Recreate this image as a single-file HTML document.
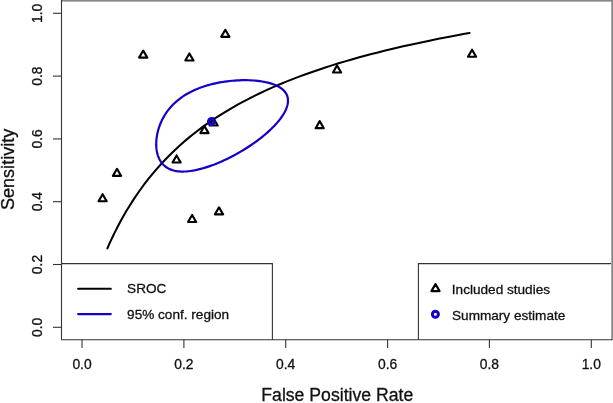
<!DOCTYPE html>
<html><head><meta charset="utf-8"><title>SROC plot</title><style>
html,body{margin:0;padding:0;background:#fff;}
svg{display:block;}
text{font-family:"Liberation Sans",sans-serif;fill:#111;stroke:#111;stroke-width:0.3px;}
svg{will-change:transform;}
</style></head><body>
<svg width="613" height="403" viewBox="0 0 613 403">
<rect width="613" height="403" fill="#fff"/>
<!-- plot box -->
<rect x="61" y="0" width="552" height="1.6" fill="#858585"/>
<rect x="611.3" y="0" width="1.7" height="340.2" fill="#858585"/>
<g stroke="#333" stroke-width="1.1" fill="none">
<line x1="61.5" y1="0" x2="61.5" y2="339.8"/>
<line x1="61" y1="339.8" x2="612" y2="339.8"/>
<!-- y ticks -->
<line x1="53" y1="13.3" x2="61.5" y2="13.3"/>
<line x1="53" y1="76.1" x2="61.5" y2="76.1"/>
<line x1="53" y1="138.9" x2="61.5" y2="138.9"/>
<line x1="53" y1="201.7" x2="61.5" y2="201.7"/>
<line x1="53" y1="264.5" x2="61.5" y2="264.5"/>
<line x1="53" y1="327.3" x2="61.5" y2="327.3"/>
<!-- x ticks -->
<line x1="82" y1="339.8" x2="82" y2="347.9"/>
<line x1="183.9" y1="339.8" x2="183.9" y2="347.9"/>
<line x1="285.7" y1="339.8" x2="285.7" y2="347.9"/>
<line x1="387.6" y1="339.8" x2="387.6" y2="347.9"/>
<line x1="489.4" y1="339.8" x2="489.4" y2="347.9"/>
<line x1="591.3" y1="339.8" x2="591.3" y2="347.9"/>
<!-- legends -->
<path d="M61.5,263.6 H272.4 V339.8"/>
<path d="M611,263.6 H418.4 V339.8"/>
</g>
<g font-size="13.85" text-anchor="middle">
<text x="82" y="369.3">0.0</text>
<text x="183.9" y="369.3">0.2</text>
<text x="285.7" y="369.3">0.4</text>
<text x="387.6" y="369.3">0.6</text>
<text x="489.4" y="369.3">0.8</text>
<text x="591.3" y="369.3">1.0</text>
<text transform="translate(42.2,13.3) rotate(-90)">1.0</text>
<text transform="translate(42.2,76.1) rotate(-90)">0.8</text>
<text transform="translate(42.2,138.9) rotate(-90)">0.6</text>
<text transform="translate(42.2,201.7) rotate(-90)">0.4</text>
<text transform="translate(42.2,264.5) rotate(-90)">0.2</text>
<text transform="translate(42.2,327.3) rotate(-90)">0.0</text>
</g>
<text x="337.3" y="401.4" font-size="17.65" text-anchor="middle">False Positive Rate</text>
<text transform="translate(13.9,169.4) rotate(-90)" font-size="18.05" text-anchor="middle">Sensitivity</text>
<!-- data -->
<path d="M102.60,194.23 L106.67,201.28 L98.53,201.28 Z M117.00,168.83 L121.07,175.88 L112.93,175.88 Z M143.20,50.57 L147.27,57.62 L139.13,57.62 Z M176.60,155.43 L180.67,162.47 L172.53,162.47 Z M189.40,53.47 L193.47,60.52 L185.33,60.52 Z M192.10,214.98 L196.17,222.03 L188.03,222.03 Z M204.45,126.08 L208.52,133.12 L200.38,133.12 Z M213.60,118.47 L217.67,125.52 L209.53,125.52 Z M219.00,207.33 L223.07,214.38 L214.93,214.38 Z M225.30,29.77 L229.37,36.82 L221.23,36.82 Z M319.70,121.12 L323.77,128.18 L315.63,128.18 Z M337.05,65.47 L341.12,72.52 L332.98,72.52 Z M472.05,49.70 L476.12,56.75 L467.98,56.75 Z" fill="none" stroke="#000" stroke-width="2.15" stroke-linejoin="round"/>
<path d="M107.40,248.33 L108.68,245.42 L110.03,242.44 L111.44,239.39 L112.91,236.28 L114.46,233.11 L116.07,229.87 L117.76,226.58 L119.53,223.23 L121.38,219.82 L123.31,216.37 L125.32,212.86 L127.43,209.31 L129.62,205.72 L131.92,202.09 L134.30,198.42 L136.79,194.72 L139.39,191.00 L142.09,187.25 L144.90,183.48 L147.82,179.70 L150.86,175.91 L154.01,172.11 L157.28,168.31 L160.68,164.52 L164.20,160.73 L167.84,156.95 L171.62,153.19 L175.52,149.45 L179.55,145.74 L183.72,142.05 L188.01,138.40 L192.44,134.79 L197.00,131.21 L201.70,127.68 L206.52,124.19 L211.47,120.76 L216.55,117.37 L221.76,114.05 L227.09,110.78 L232.55,107.57 L238.11,104.42 L243.80,101.34 L249.59,98.32 L255.48,95.37 L261.47,92.48 L267.56,89.67 L273.73,86.92 L279.98,84.25 L286.31,81.65 L292.70,79.11 L299.15,76.65 L305.64,74.26 L312.18,71.94 L318.75,69.69 L325.35,67.50 L331.96,65.39 L338.57,63.34 L345.19,61.36 L351.79,59.45 L358.37,57.60 L364.92,55.82 L371.44,54.09 L377.91,52.43 L384.32,50.83 L390.67,49.28 L396.96,47.80 L403.16,46.36 L409.29,44.99 L415.32,43.66 L421.26,42.39 L427.09,41.16 L432.82,39.98 L438.44,38.85 L443.94,37.77 L449.32,36.73 L454.58,35.73 L459.71,34.77 L464.72,33.85 L469.60,32.97" fill="none" stroke="#000" stroke-width="2.05" stroke-linecap="round" stroke-linejoin="round"/>
<path d="M161.76,162.92 L161.01,161.90 L160.31,160.83 L159.68,159.70 L159.09,158.53 L158.56,157.31 L158.09,156.05 L157.67,154.75 L157.30,153.41 L156.99,152.03 L156.73,150.61 L156.52,149.16 L156.37,147.68 L156.27,146.17 L156.23,144.63 L156.24,143.07 L156.30,141.49 L156.41,139.88 L156.58,138.27 L156.80,136.63 L157.08,134.99 L157.41,133.33 L157.79,131.67 L158.23,130.01 L158.73,128.35 L159.27,126.68 L159.88,125.02 L160.53,123.37 L161.25,121.73 L162.01,120.09 L162.84,118.47 L163.72,116.87 L164.66,115.28 L165.65,113.72 L166.70,112.17 L167.81,110.65 L168.97,109.16 L170.19,107.69 L171.47,106.25 L172.81,104.84 L174.20,103.46 L175.65,102.12 L177.16,100.81 L178.72,99.53 L180.34,98.30 L182.01,97.09 L183.74,95.93 L185.52,94.80 L187.35,93.72 L189.24,92.67 L191.17,91.67 L193.16,90.70 L195.19,89.78 L197.26,88.90 L199.38,88.06 L201.54,87.26 L203.74,86.50 L205.98,85.79 L208.25,85.12 L210.55,84.49 L212.88,83.91 L215.24,83.36 L217.62,82.86 L220.01,82.41 L222.43,81.99 L224.85,81.62 L227.29,81.29 L229.72,81.01 L232.16,80.76 L234.60,80.56 L237.02,80.40 L239.44,80.29 L241.84,80.21 L244.22,80.18 L246.57,80.19 L248.90,80.25 L251.19,80.34 L253.45,80.48 L255.67,80.67 L257.84,80.89 L259.96,81.16 L262.03,81.47 L264.04,81.82 L265.99,82.21 L267.88,82.65 L269.70,83.13 L271.45,83.65 L273.13,84.22 L274.73,84.83 L276.25,85.48 L277.68,86.17 L279.03,86.91 L280.30,87.69 L281.47,88.51 L282.55,89.37 L283.54,90.28 L284.43,91.22 L285.23,92.21 L285.92,93.24 L286.52,94.31 L287.02,95.41 L287.41,96.56 L287.70,97.75 L287.89,98.97 L287.98,100.23 L287.96,101.52 L287.84,102.85 L287.62,104.21 L287.29,105.61 L286.87,107.04 L286.34,108.49 L285.71,109.97 L284.98,111.48 L284.15,113.02 L283.23,114.57 L282.21,116.15 L281.10,117.75 L279.90,119.36 L278.61,120.99 L277.23,122.63 L275.77,124.27 L274.22,125.93 L272.60,127.59 L270.90,129.26 L269.12,130.92 L267.28,132.58 L265.37,134.24 L263.40,135.89 L261.37,137.53 L259.28,139.15 L257.14,140.76 L254.96,142.36 L252.73,143.93 L250.46,145.48 L248.15,147.00 L245.82,148.49 L243.45,149.96 L241.07,151.39 L238.66,152.79 L236.24,154.15 L233.81,155.47 L231.38,156.75 L228.94,157.99 L226.50,159.18 L224.07,160.32 L221.65,161.42 L219.24,162.47 L216.85,163.46 L214.48,164.41 L212.13,165.29 L209.81,166.13 L207.51,166.91 L205.25,167.63 L203.03,168.29 L200.84,168.89 L198.69,169.43 L196.59,169.92 L194.53,170.34 L192.51,170.70 L190.54,170.99 L188.62,171.23 L186.76,171.40 L184.94,171.51 L183.18,171.55 L181.47,171.54 L179.81,171.46 L178.21,171.31 L176.67,171.11 L175.18,170.84 L173.75,170.51 L172.37,170.11 L171.05,169.66 L169.79,169.14 L168.59,168.57 L167.44,167.93 L166.36,167.24 L165.32,166.49 L164.35,165.68 L163.43,164.81 L162.57,163.90Z" fill="none" stroke="#1400c8" stroke-width="2.2" stroke-linejoin="round"/>
<circle cx="211.4" cy="121.6" r="3" fill="none" stroke="#1400c8" stroke-width="3"/>
<!-- legend content -->
<line x1="78.1" y1="288.7" x2="110.8" y2="288.7" stroke="#000" stroke-width="2.05" stroke-linecap="round"/>
<line x1="78.1" y1="314.1" x2="110.8" y2="314.1" stroke="#1400c8" stroke-width="2.15" stroke-linecap="round"/>
<g font-size="13.6">
<text x="127.1" y="293.4">SROC</text>
<text x="127.1" y="318.6">95% conf. region</text>
<text x="451.8" y="293.8">Included studies</text>
<text x="452" y="319.5">Summary estimate</text>
</g>
<path d="M435.50,284.10 L439.57,291.15 L431.43,291.15 Z" fill="none" stroke="#000" stroke-width="2.15" stroke-linejoin="round"/>
<circle cx="435.4" cy="314.2" r="3" fill="none" stroke="#1400c8" stroke-width="3"/>
</svg>
</body></html>
